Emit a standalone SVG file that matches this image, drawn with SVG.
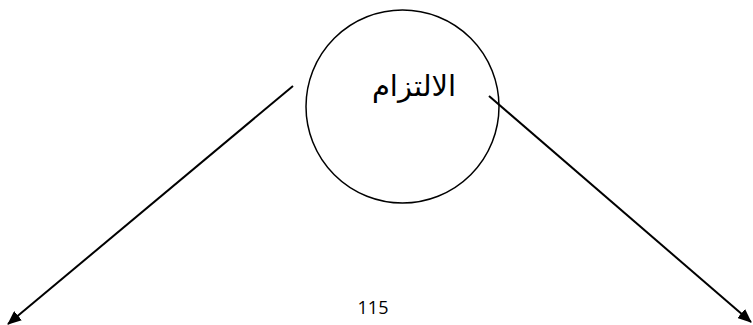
<svg xmlns="http://www.w3.org/2000/svg" width="753" height="325" viewBox="0 0 753 325">
<style>
.ln{stroke:#000;stroke-width:2;fill:none}
.t{font-family:"DejaVu Sans","Noto Sans",sans-serif;fill:#000}
</style>
<defs>
<marker id="ah" markerWidth="14" markerHeight="12" refX="13" refY="6" orient="auto" markerUnits="userSpaceOnUse">
<path d="M0,0 L14,6 L0,12 z" fill="#000"/>
</marker>
</defs>
<rect width="753" height="325" fill="#fff"/>
<g id="node-iltizam">
<circle cx="402.5" cy="106.5" r="96.5" fill="none" stroke="#000" stroke-width="1.5"/>
<text class="t" x="414" y="96" font-size="29" text-anchor="middle" direction="rtl">الالتزام</text>
</g>
<g id="connectors">
<line class="ln" x1="293" y1="86" x2="8" y2="324" marker-end="url(#ah)"/>
<line class="ln" x1="489" y1="96" x2="751" y2="322" marker-end="url(#ah)"/>
</g>
<g id="page-number">
<text x="373" y="314" font-size="18" text-anchor="middle" font-family="'Open Sans','Liberation Sans',sans-serif">115</text>
</g>
</svg>
